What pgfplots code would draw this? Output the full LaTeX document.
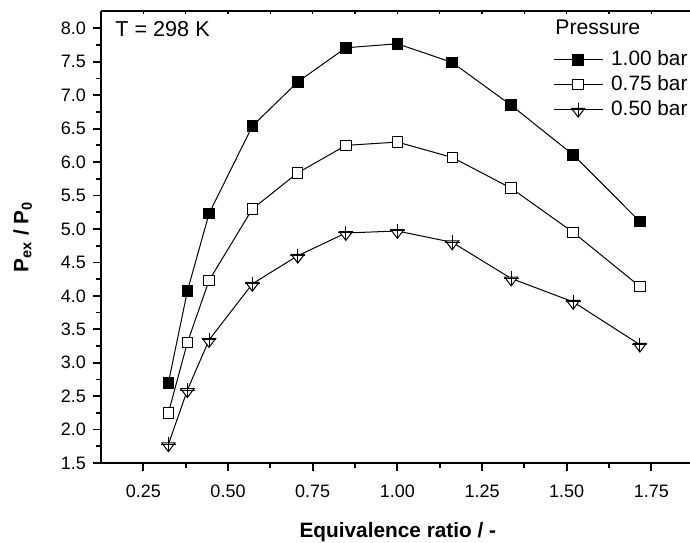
\documentclass[border=0pt]{standalone}
\usepackage{fontspec}
\setmainfont{Liberation Sans}
\usepackage{pgfplots}
\usepackage{pgfplotstable}
\pgfplotsset{compat=1.18}

% down triangle with a cross, as in the original plot
\pgfdeclareplotmark{tridownplus}{%
  \pgfpathmoveto{\pgfqpoint{-3.3pt}{0.7pt}}%
  \pgfpathlineto{\pgfqpoint{3.3pt}{0.7pt}}%
  \pgfpathlineto{\pgfqpoint{0pt}{-3.7pt}}%
  \pgfpathclose
  \pgfusepathqfillstroke
  \pgfpathmoveto{\pgfqpoint{-3.7pt}{0pt}}%
  \pgfpathlineto{\pgfqpoint{3.7pt}{0pt}}%
  \pgfpathmoveto{\pgfqpoint{0pt}{3.5pt}}%
  \pgfpathlineto{\pgfqpoint{0pt}{-3.7pt}}%
  \pgfusepathqstroke
}

\pgfplotstableread{
phi   p100 p075 p050
0.324 2.70 2.25 1.78
0.380 4.07 3.30 2.59
0.444 5.23 4.23 3.34
0.572 6.54 5.30 4.18
0.706 7.20 5.84 4.60
0.848 7.71 6.25 4.94
1.000 7.77 6.30 4.97
1.162 7.49 6.07 4.80
1.336 6.85 5.61 4.26
1.519 6.11 4.95 3.91
1.716 5.11 4.14 3.27
}\data

\begin{document}
\begin{tikzpicture}
\begin{axis}[
    at={(0,0)}, anchor=south west,
    scale only axis, width=294.5pt, height=226pt,
    xmin=0.125, xmax=1.864, ymin=1.5, ymax=8.26,
    axis x line*=bottom, axis y line*=left,
    axis line style={line width=1pt},
    xtick={0.25,0.5,...,1.75}, minor x tick num=1,
    ytick={1.5,2,...,8}, minor y tick num=1,
    tick align=outside, major tick length=4pt, minor tick length=2.3pt,
    every tick/.style={black, line width=0.9pt},
    xticklabel style={/pgf/number format/.cd, fixed, fixed zerofill, precision=2},
    yticklabel style={/pgf/number format/.cd, fixed, fixed zerofill, precision=1},
    xticklabel shift=3.5pt,
    /pgf/number format/assume math mode=true,
    tick label style={font=\fontsize{9}{10}\selectfont},
    xlabel={\textbf{Equivalence ratio / -}},
    ylabel={\textbf{P\textsubscript{ex} / P\textsubscript{0}}},
    label style={font=\fontsize{10.4}{12}\selectfont},
    xlabel style={at={(axis description cs:0.504,0)}, anchor=base, yshift=-37pt},
    ylabel style={at={(axis description cs:-0.133,0.5)}, anchor=center},
    legend style={at={(axis description cs:0.767,0.9208)}, anchor=north west,
        draw=none, fill=none, inner sep=0pt, row sep=0pt,
        font=\fontsize{10.4}{12}\selectfont,
        nodes={inner sep=0pt, text height=9.4pt, text depth=3.1pt}},
    legend cell align=left,
    legend image code/.code={%
        \draw[#1, mark=none] (0pt,0pt) -- (24.5pt,0pt);
        \draw[#1, only marks] plot coordinates {(12.25pt,0pt)};
        \path (28.5pt,0pt);},
]
\addplot[black, line width=0.5pt, mark=square*, mark size=2.67pt,
    mark options={solid, fill=black}] table[x=phi, y=p100] {\data};
\addplot[black, line width=0.5pt, mark=square*, mark size=2.6pt,
    mark options={solid, fill=white}] table[x=phi, y=p075] {\data};
\addplot[black, line width=0.5pt, mark=tridownplus,
    mark options={solid, fill=white}] table[x=phi, y=p050] {\data};
\legend{1.00 bar, 0.75 bar, 0.50 bar}

\node[anchor=base west, inner sep=0pt, font=\fontsize{10.8}{12}\selectfont]
    at (axis description cs:0.0238,0.9431) {T = 298 K};
\node[anchor=base west, inner sep=0pt, font=\fontsize{10.6}{12}\selectfont]
    at (axis description cs:0.7708,0.947) {Pressure};
\end{axis}

% top axis line with small inward ticks
\begin{axis}[
    at={(0,0)}, anchor=south west,
    scale only axis, width=294.5pt, height=226pt,
    xmin=0.125, xmax=1.864, ymin=0, ymax=1,
    axis x line*=top, axis y line=none,
    axis line style={line width=1pt},
    xtick={0.125,0.25,...,1.75}, xticklabels={},
    tick align=inside, major tick length=1.5pt,
    every tick/.style={black, line width=0.6pt},
]
\end{axis}

\pgfresetboundingbox
\path[use as bounding box] (-50.5pt,-39.5pt) rectangle (294.5pt,231.5pt);
\end{tikzpicture}
\end{document}
